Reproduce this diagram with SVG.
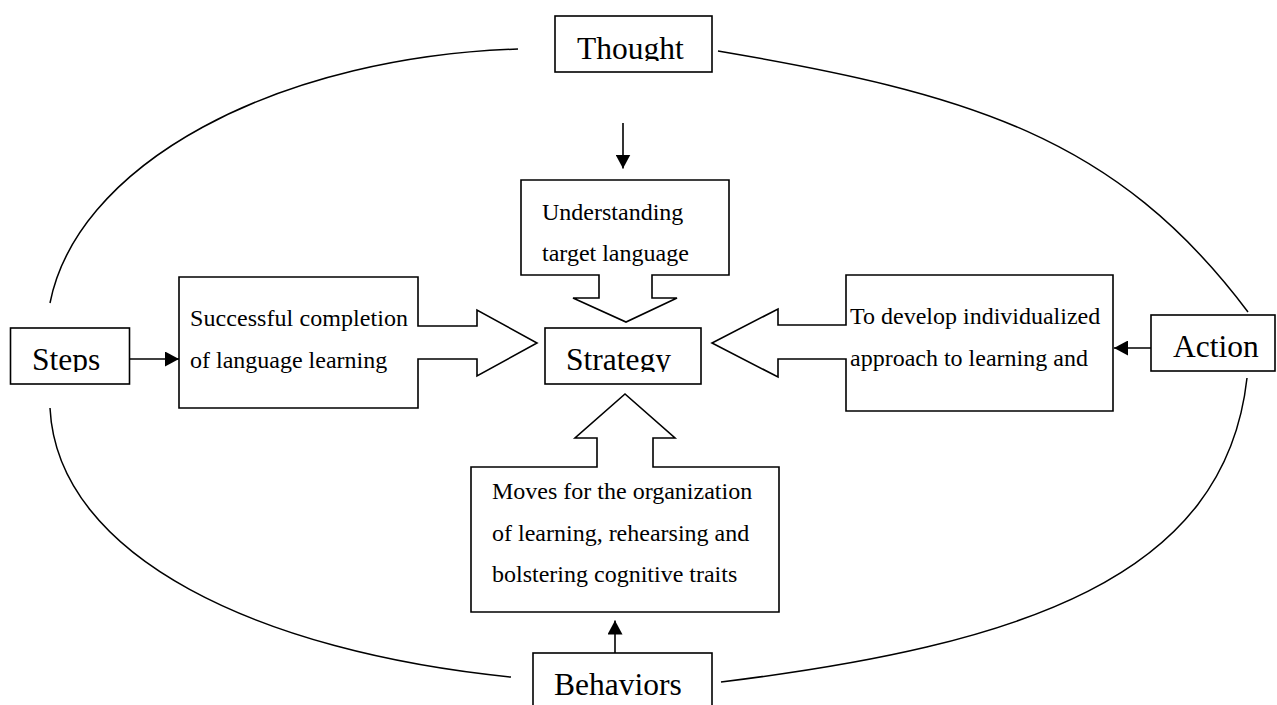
<svg xmlns="http://www.w3.org/2000/svg" width="1277" height="705" viewBox="0 0 1277 705">
<style>
.box{fill:#fff;stroke:#000;stroke-width:1.6}
.arc{fill:none;stroke:#000;stroke-width:1.5}
.conn{fill:none;stroke:#000;stroke-width:1.6}
.big{font-family:"Liberation Serif","Times New Roman",serif;font-size:31.5px;fill:#000}
.sm{font-family:"Liberation Serif","Times New Roman",serif;font-size:24px;fill:#000}
</style>
<defs>
<marker id="ah" viewBox="0 0 14 15" refX="14" refY="7.5" markerWidth="14" markerHeight="15" markerUnits="userSpaceOnUse" orient="auto">
<path d="M0,0 L14,7.5 L0,15 z" fill="#000"/>
</marker>
<clipPath id="cThought"><rect x="555" y="16" width="157" height="45"/></clipPath>
<clipPath id="cSteps"><rect x="10" y="328" width="120" height="44"/></clipPath>
<clipPath id="cStrategy"><rect x="545" y="328" width="156" height="44"/></clipPath>
</defs>
<rect width="1277" height="705" fill="#fff"/>

<g id="connectors">
<path class="arc" d="M518,49 A500,286.4 0 0 0 50,303"/>
<path class="arc" d="M50,408 C57.5,558 261,652 511,677"/>
<path class="arc" d="M718,51 C968,93.5 1116,136 1248,312"/>
<path class="arc" d="M1247,378 C1225,578 1021,645 721,682"/>
<path class="conn" d="M623,123 L623,168.5" marker-end="url(#ah)"/>
<path class="conn" d="M129,359 L179,359" marker-end="url(#ah)"/>
<path class="conn" d="M1151,348 L1114,348" marker-end="url(#ah)"/>
<path class="conn" d="M615,653 L615,620.5" marker-end="url(#ah)"/>
</g>

<g id="thought">
<rect class="box" x="555" y="16" width="157" height="56"/>
<text class="big" x="577" y="59" clip-path="url(#cThought)">Thought</text>
</g>

<g id="understanding">
<path class="box" d="M521,180 L729,180 L729,275 L652,275 L652,298 L677,298 L626,322 L573,298 L599,298 L599,275 L521,275 Z"/>
<text class="sm" x="542" y="220">Understanding</text>
<text class="sm" x="542" y="261">target language</text>
</g>

<g id="steps">
<rect class="box" x="10.5" y="328" width="119" height="56"/>
<text class="big" x="32" y="370" clip-path="url(#cSteps)">Steps</text>
</g>

<g id="successful">
<path class="box" d="M179,277 L418,277 L418,326 L477,326 L477,310 L537,343 L477,376 L477,359 L418,359 L418,408 L179,408 Z"/>
<text class="sm" x="190" y="326" textLength="218" lengthAdjust="spacing">Successful completion</text>
<text class="sm" x="190" y="368">of language learning</text>
</g>

<g id="strategy">
<rect class="box" x="545" y="328" width="156" height="56"/>
<text class="big" x="566" y="369.5" clip-path="url(#cStrategy)">Strategy</text>
</g>

<g id="develop">
<path class="box" d="M1113,275 L1113,411 L846,411 L846,359 L778,359 L778,377 L712,343 L778,309 L778,325 L846,325 L846,275 Z"/>
<text class="sm" x="850" y="324">To develop individualized</text>
<text class="sm" x="850" y="366">approach to learning and</text>
</g>

<g id="action">
<rect class="box" x="1151" y="315" width="124" height="56"/>
<text class="big" x="1173" y="357">Action</text>
</g>

<g id="moves">
<path class="box" d="M471,467 L597,467 L597,438 L575,438 L625,394 L675,438 L653,438 L653,467 L779,467 L779,612 L471,612 Z"/>
<text class="sm" x="492" y="499">Moves for the organization</text>
<text class="sm" x="492" y="541">of learning, rehearsing and</text>
<text class="sm" x="492" y="582">bolstering cognitive traits</text>
</g>

<g id="behaviors">
<rect class="box" x="533" y="653" width="179" height="70"/>
<text class="big" x="554" y="695">Behaviors</text>
</g>
</svg>
